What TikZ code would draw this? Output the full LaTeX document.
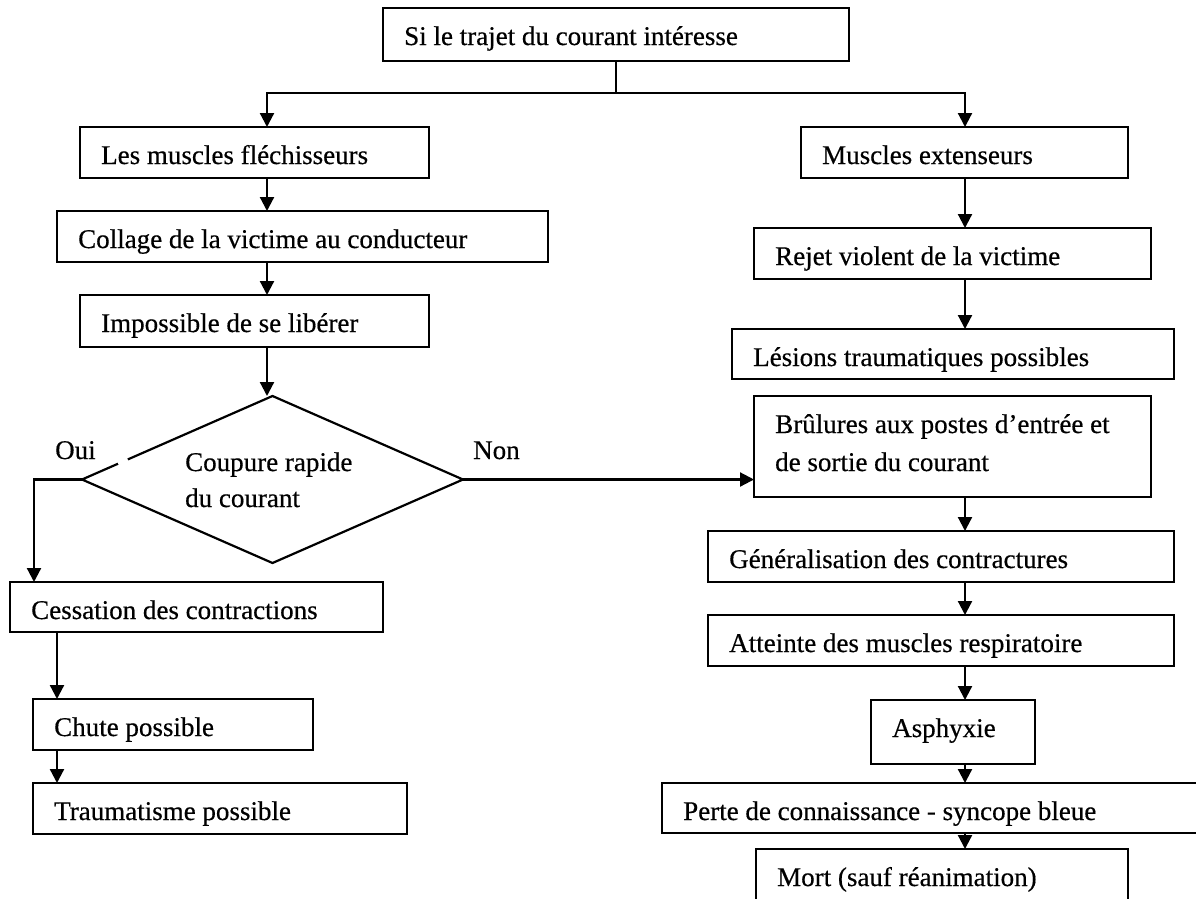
\documentclass[tikz,border=0pt]{standalone}
\usepackage{fontspec}
\setmainfont{Liberation Serif}[BoldFont={Liberation Serif}, BoldFeatures={FakeBold=0.5}]
\usetikzlibrary{shapes.geometric,arrows.meta,calc}

\tikzset{
  flowbox/.style={draw=black, line width=2.2pt, rectangle, inner sep=0pt, outer sep=0pt, anchor=north west},
  flowtext/.style={anchor=base west, inner sep=0pt, font=\fontsize{27}{36}\selectfont\bfseries},
  decision/.style={diamond, draw=black, line width=2.2pt, inner sep=0pt, outer sep=0pt},
  link/.style={draw=black, line width=2.2pt},
  arr/.style={link, -{Triangle[width=14pt,length=14pt]}},
}

% box from (x0,y0) to (x1,y1), y measured downwards, text set 21pt in and 37pt down
\newcommand\flowbox[6]{%
  \node[flowbox, minimum width={#4-#2}, minimum height={#5-#3}] (#1) at (#2,#3) {};
  \node[flowtext] (#1-t) at ([shift={(21pt,-37pt)}]#1.north west) {#6};
}

\begin{document}
\begin{tikzpicture}[x=1pt, y=-1pt]
  \useasboundingbox (0,0) rectangle (1196,898);
  \fill[white] (0,0) rectangle (1196,898);
  \clip (0,0) rectangle (1196,898);

  % columns of the vertical connectors
  \coordinate (colL) at (267,0);
  \coordinate (colR) at (965,0);
  \coordinate (colO) at (34,0);
  \coordinate (colC) at (57,0);
  \coordinate (split) at (616,93);

  % start
  \flowbox{top}{383}{8}{849}{61}{Si le trajet du courant intéresse}

  % left branch
  \flowbox{lm}{80}{127}{429}{178}{Les muscles fléchisseurs}
  \flowbox{col}{57}{211}{548}{262}{Collage de la victime au conducteur}
  \flowbox{imp}{80}{295}{429}{347}{Impossible de se libérer}

  \node[decision, minimum width=381pt, minimum height=167pt] (d) at (272.5,479.5) {};
  \draw[white, line width=4pt] ($(d.west)!0.19!(d.north)$) -- ($(d.west)!0.24!(d.north)$);
  \node[flowtext] (d-t) at (185,471) {\vtop{\hbox{Coupure rapide}\hbox{du courant}}};
  \node[flowtext] (oui) at (55,459) {Oui};
  \node[flowtext] (non) at (473,459) {Non};

  \flowbox{cess}{10}{582}{383}{632}{Cessation des contractions}
  \flowbox{chute}{33}{699}{313}{750}{Chute possible}
  \flowbox{trauma}{33}{783}{407}{834}{Traumatisme possible}

  % right branch
  \flowbox{mext}{801}{127}{1128}{178}{Muscles extenseurs}
  \flowbox{rejet}{754}{228}{1151}{279}{Rejet violent de la victime}
  \flowbox{les}{732}{329}{1174}{379}{Lésions traumatiques possibles}
  \flowbox{bru}{754}{396}{1151}{497}{\fontsize{27}{38}\selectfont\vtop{\hbox{Brûlures aux postes d’entrée et}\hbox{de sortie du courant}}}
  \flowbox{gen}{708}{531}{1174}{582}{Généralisation des contractures}
  \flowbox{att}{708}{615}{1174}{666}{Atteinte des muscles respiratoire}
  \flowbox{asph}{871}{700}{1035}{764}{Asphyxie}
  \flowbox{perte}{662}{783}{1200}{833}{Perte de connaissance - syncope bleue}
  \flowbox{mort}{756}{849}{1128}{910}{Mort (sauf réanimation)}

  % connectors
  \draw[link] (top.south) -- (split);
  \draw[arr] (split) -| (colL |- lm.north);
  \draw[arr] (split) -| (colR |- mext.north);

  \draw[arr] (colL |- lm.south) -- (colL |- col.north);
  \draw[arr] (colL |- col.south) -- (colL |- imp.north);
  \draw[arr] (colL |- imp.south) -- (colL |- d.north);

  \draw[arr] (d.west) -| (colO |- cess.north);
  \draw[arr] (d.east) -- (d.east -| bru.west);

  \draw[arr] (colC |- cess.south) -- (colC |- chute.north);
  \draw[arr] (colC |- chute.south) -- (colC |- trauma.north);

  \draw[arr] (colR |- mext.south) -- (colR |- rejet.north);
  \draw[arr] (colR |- rejet.south) -- (colR |- les.north);
  \draw[arr] (colR |- bru.south) -- (colR |- gen.north);
  \draw[arr] (colR |- gen.south) -- (colR |- att.north);
  \draw[arr] (colR |- att.south) -- (colR |- asph.north);
  \draw[arr] (colR |- asph.south) -- (colR |- perte.north);
  \draw[arr] (colR |- perte.south) -- (colR |- mort.north);
\end{tikzpicture}
\end{document}
